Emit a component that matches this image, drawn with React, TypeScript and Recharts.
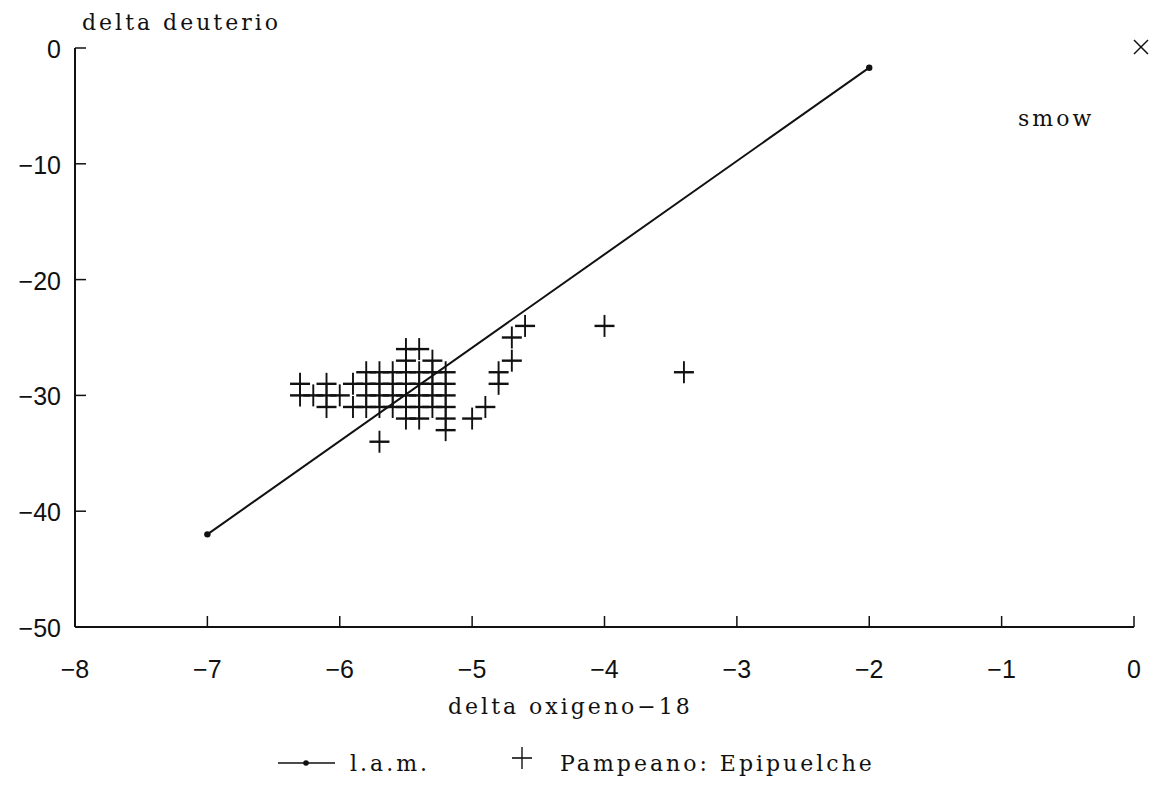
import React from 'react';
import { ScatterChart, Scatter, XAxis, YAxis, Legend, Label } from 'recharts';

// ---- data ----
const xTicks = [-8, -7, -6, -5, -4, -3, -2, -1, 0];
const yTicks = [0, -10, -20, -30, -40, -50];

const seriesNames = ['l.a.m.', 'Pampeano: Epipuelche'];
const xAxisTitle = 'delta oxigeno\u221218';
const yAxisTitle = 'delta deuterio';
const refLabel = 'smow';

// linea meteorica (l.a.m.)
const lamO18 = [-7, -2];
const lamDD = [-42, -1.7];

// Pampeano: Epipuelche
const pampO18 = [
  -5.5, -5.4,
  -5.5, -5.3,
  -5.8, -5.7, -5.6, -5.5, -5.4, -5.3, -5.2,
  -6.3, -6.1, -5.9, -5.8, -5.7, -5.6, -5.5, -5.4, -5.3, -5.2,
  -6.3, -6.2, -6.1, -6.0, -5.8, -5.7, -5.6, -5.5, -5.4, -5.3, -5.2,
  -6.1, -5.9, -5.8, -5.7, -5.6, -5.5, -5.4, -5.3, -5.2,
  -5.5, -5.4, -5.2,
  -5.2,
  -5.7,
  -4.6, -4.7, -4.7, -4.8, -4.8, -4.9, -5.0, -4.0, -3.4,
];
const pampDD = [
  -26, -26,
  -27, -27,
  -28, -28, -28, -28, -28, -28, -28,
  -29, -29, -29, -29, -29, -29, -29, -29, -29, -29,
  -30, -30, -30, -30, -30, -30, -30, -30, -30, -30, -30,
  -31, -31, -31, -31, -31, -31, -31, -31, -31,
  -32, -32, -32,
  -33,
  -34,
  -24, -25, -27, -28, -29, -31, -32, -24, -28,
];

// SMOW reference point
const smowO18 = [0];
const smowDD = [0];

const lamData = lamO18.map((x, i) => ({ x, y: lamDD[i] }));
const pampData = pampO18.map((x, i) => ({ x, y: pampDD[i] }));
const smowData = smowO18.map((x, i) => ({ x, y: smowDD[i] }));

const INK = '#111';
const SERIF = "'DejaVu Serif', serif";
const SANS = "'Liberation Sans', Arial, sans-serif";
const TITLE_SIZE = 22;
const TITLE_SPACING = 3;

const fmt = (v: number) => (v < 0 ? '\u2212' + Math.abs(v) : String(v));

const XTick = (props: any) => {
  const { x, y, payload } = props;
  return (
    <g>
      <line x1={x} y1={y} x2={x} y2={y - 11} stroke={INK} strokeWidth={1.5} />
      <text x={x} y={y + 42} textAnchor="middle" dominantBaseline="central" fontFamily={SANS} fontSize={25} fill={INK}>
        {fmt(payload.value)}
      </text>
    </g>
  );
};

const YTick = (props: any) => {
  const { x, y, payload } = props;
  return (
    <g>
      <line x1={x} y1={y} x2={x + 11} y2={y} stroke={INK} strokeWidth={1.5} />
      <text x={x - 14} y={y + 1} textAnchor="end" dominantBaseline="central" fontFamily={SANS} fontSize={25} fill={INK}>
        {fmt(payload.value)}
      </text>
    </g>
  );
};

const PlusShape = (props: any) => {
  const { cx, cy } = props;
  return (
    <g stroke={INK}>
      <line x1={cx - 10} y1={cy} x2={cx + 10} y2={cy} strokeWidth={2.4} />
      <line x1={cx} y1={cy - 11} x2={cx} y2={cy + 11} strokeWidth={1.9} />
    </g>
  );
};

const DotShape = (props: any) => {
  const { cx, cy } = props;
  return <circle cx={cx} cy={cy} r={3.2} fill={INK} />;
};

const SmowShape = (props: any) => {
  const { cx, cy } = props;
  return (
    <g>
      <g stroke={INK} strokeWidth={1.5}>
        <line x1={cx} y1={cy - 8} x2={cx + 14} y2={cy + 6} />
        <line x1={cx} y1={cy + 6} x2={cx + 14} y2={cy - 8} />
      </g>
      <text x={cx - 116} y={cy + 78} fontFamily={SERIF} fontSize={TITLE_SIZE} letterSpacing={TITLE_SPACING} fill={INK}>
        {refLabel}
      </text>
    </g>
  );
};

const LegendContent = () => (
  <svg width={1154} height={48} style={{ display: 'block' }}>
    <line x1={278} y1={23} x2={335} y2={23} stroke={INK} strokeWidth={1.5} />
    <circle cx={306} cy={23} r={2.8} fill={INK} />
    <text x={350} y={31} fontFamily={SERIF} fontSize={TITLE_SIZE} letterSpacing={TITLE_SPACING} fill={INK}>
      {seriesNames[0]}
    </text>
    <g stroke={INK}>
      <line x1={512} y1={18} x2={532} y2={18} strokeWidth={1.6} />
      <line x1={522} y1={7} x2={522} y2={29} strokeWidth={1.4} />
    </g>
    <text x={560} y={31} fontFamily={SERIF} fontSize={TITLE_SIZE} letterSpacing={TITLE_SPACING} fill={INK}>
      {seriesNames[1]}
    </text>
  </svg>
);

export default function App() {
  return (
    <div style={{ position: 'absolute', left: 0, top: 0, width: 1154, height: 788, background: '#fff' }}>
      <ScatterChart width={1154} height={788} margin={{ top: 48, right: 20, bottom: 0, left: 0 }}>
        <XAxis
          type="number"
          dataKey="x"
          domain={[-8, 0]}
          ticks={xTicks}
          interval={0}
          height={161}
          tickSize={0}
          tickMargin={0}
          tickLine={false}
          axisLine={{ stroke: INK, strokeWidth: 2 }}
          tick={<XTick />}
        >
          <Label
            content={() => (
              <text x={448} y={714} fontFamily={SERIF} fontSize={TITLE_SIZE} letterSpacing={TITLE_SPACING} fill={INK}>
                {xAxisTitle}
              </text>
            )}
          />
        </XAxis>
        <YAxis
          type="number"
          dataKey="y"
          domain={[-50, 0]}
          ticks={yTicks}
          interval={0}
          width={75}
          tickSize={0}
          tickMargin={0}
          tickLine={false}
          axisLine={{ stroke: INK, strokeWidth: 2 }}
          tick={<YTick />}
        >
          <Label
            content={() => (
              <text x={82} y={30} fontFamily={SERIF} fontSize={TITLE_SIZE} letterSpacing={TITLE_SPACING} fill={INK}>
                {yAxisTitle}
              </text>
            )}
          />
        </YAxis>
        <Legend
          layout="horizontal"
          verticalAlign="middle"
          align="center"
          content={<LegendContent />}
          wrapperStyle={{ left: 0, top: 740, width: 1154, height: 48 }}
        />
        <Scatter
          name={seriesNames[0]}
          data={lamData}
          line={{ stroke: INK, strokeWidth: 2 }}
          lineType="joint"
          shape={<DotShape />}
          isAnimationActive={false}
        />
        <Scatter name={seriesNames[1]} data={pampData} shape={<PlusShape />} isAnimationActive={false} />
        <Scatter name="smow" data={smowData} shape={<SmowShape />} legendType="none" isAnimationActive={false} />
      </ScatterChart>
    </div>
  );
}
